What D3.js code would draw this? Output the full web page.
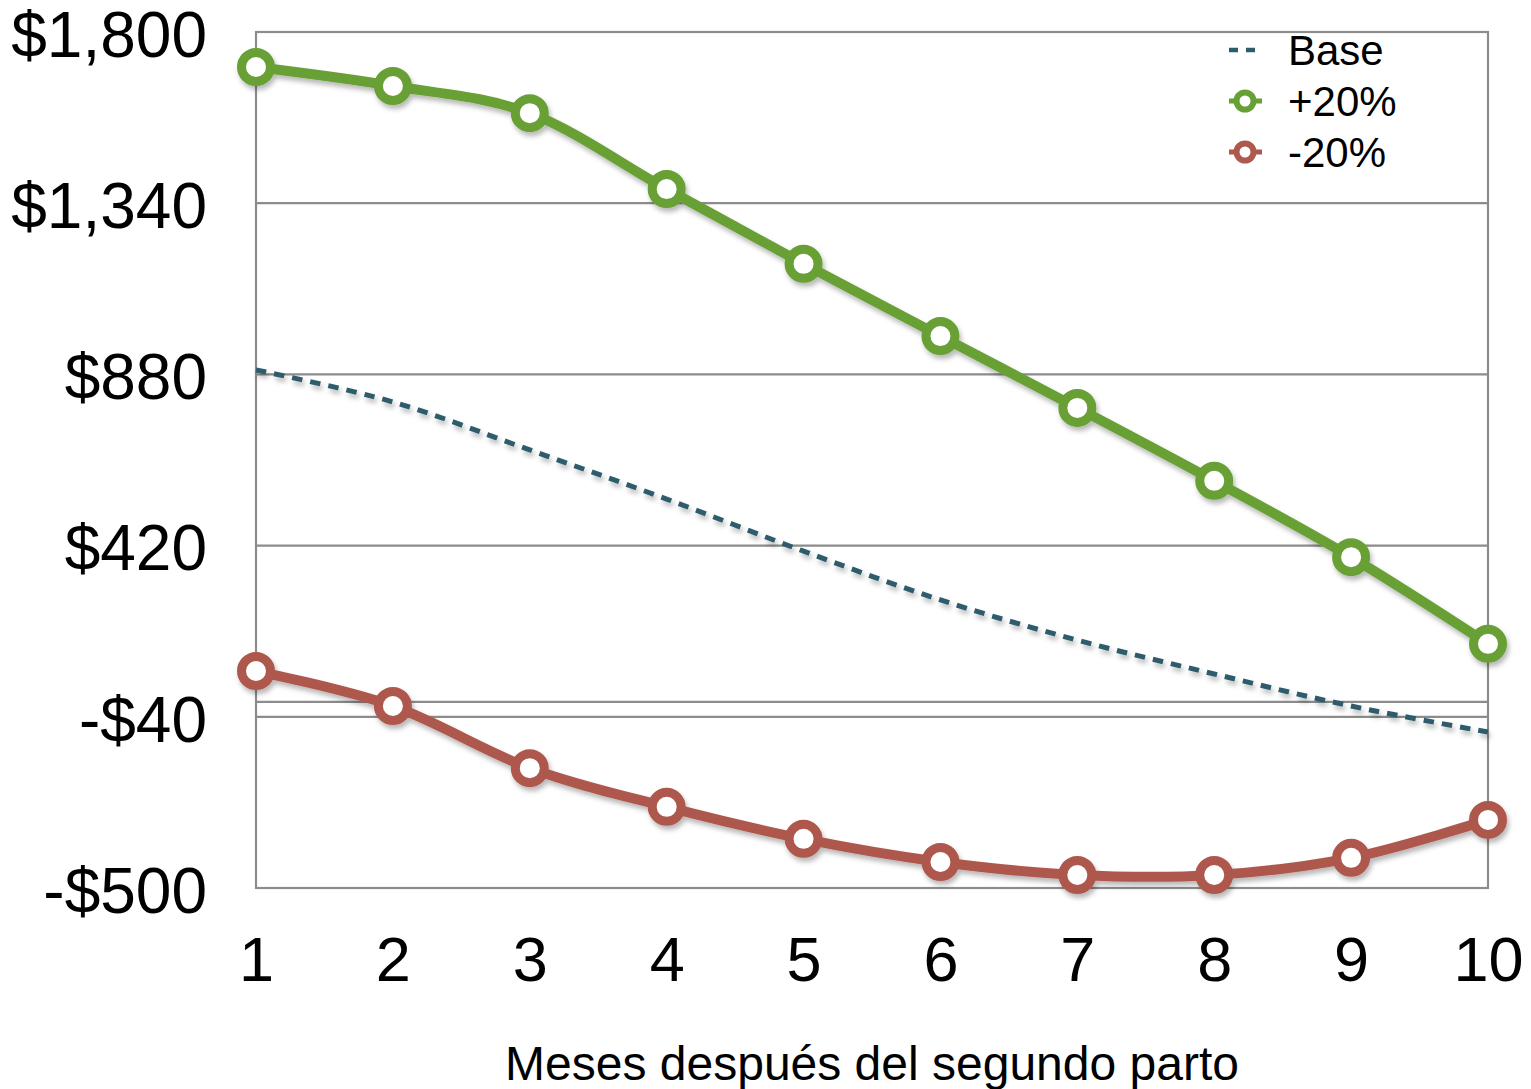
<!DOCTYPE html>
<html>
<head>
<meta charset="utf-8">
<script src="https://cdn.jsdelivr.net/npm/d3@7"></script>
<style>
  html, body { margin: 0; padding: 0; background: #ffffff; }
  svg { display: block; font-family: "Liberation Sans", Arial, Helvetica, sans-serif; }
</style>
</head>
<body>
<svg id="chart" width="1531" height="1089"></svg>
<script>
// Months after the second calving
const months = [1, 2, 3, 4, 5, 6, 7, 8, 9, 10];

// Series values (USD)
const baseValues  = [892, 806, 677, 545, 405, 274, 166, 75, -11, -81];
const plusValues  = [1706, 1655, 1582, 1378, 1177, 983, 790, 594, 389, 156];
const minusValues = [83, -11, -178, -282, -368, -430, -465, -465, -419, -317];

// Axis ticks
const yTicks = [-500, -40, 420, 880, 1340, 1800];
const yTickLabels = ["-$500", "-$40", "$420", "$880", "$1,340", "$1,800"];
const xTickLabels = ["1", "2", "3", "4", "5", "6", "7", "8", "9", "10"];

const seriesNames = ["Base", "+20%", "-20%"];
const xTitle = "Meses después del segundo parto";

const colors = { base: "#2d5c6c", plus: "#67a034", minus: "#ae594d" };

const svg = d3.select("#chart");
const plotLeft = 256, plotRight = 1488, plotTop = 32, plotBottom = 888;

const x = d3.scaleLinear().domain([1, 10]).range([plotLeft, plotRight]);
const y = d3.scaleLinear().domain([-500, 1800]).range([plotBottom, plotTop]);

// soft drop shadow under the series
const defs = svg.append("defs");
const f = defs.append("filter").attr("id", "shadow")
  .attr("x", "-10%").attr("y", "-10%").attr("width", "120%").attr("height", "130%");
f.append("feDropShadow").attr("dx", 2).attr("dy", 4).attr("stdDeviation", 2.5)
  .attr("flood-color", "#000").attr("flood-opacity", 0.28);

// gridlines (plus the zero line)
const gridColor = "#8c8c8c";
svg.append("g").selectAll("line").data(yTicks.concat([0])).join("line")
  .attr("x1", plotLeft).attr("x2", plotRight)
  .attr("y1", d => y(d)).attr("y2", d => y(d))
  .attr("stroke", gridColor).attr("stroke-width", 2.2);

// plot frame
svg.append("rect")
  .attr("x", plotLeft).attr("y", plotTop)
  .attr("width", plotRight - plotLeft).attr("height", plotBottom - plotTop)
  .attr("fill", "none").attr("stroke", gridColor).attr("stroke-width", 2.2);

// y axis
const yAxis = d3.axisLeft(y).tickValues(yTicks)
  .tickFormat((d, i) => yTickLabels[i]).tickSize(0).tickPadding(49);
const gy = svg.append("g").attr("transform", `translate(${plotLeft},0)`).call(yAxis);
gy.select(".domain").remove();
gy.selectAll("text").attr("font-size", 64).attr("fill", "#000")
  .attr("font-family", "'Liberation Sans', Arial, sans-serif")
  .attr("dy", "0.38em");

// x axis
const xAxis = d3.axisBottom(x).tickValues(months)
  .tickFormat((d, i) => xTickLabels[i]).tickSize(0).tickPadding(48);
const gx = svg.append("g").attr("transform", `translate(0,${plotBottom})`).call(xAxis);
gx.select(".domain").remove();
gx.selectAll("text").attr("font-size", 63).attr("fill", "#000")
  .attr("font-family", "'Liberation Sans', Arial, sans-serif");

// x axis title
svg.append("text")
  .attr("x", (plotLeft + plotRight) / 2).attr("y", 1080)
  .attr("text-anchor", "middle").attr("font-size", 48).attr("fill", "#000")
  .text(xTitle);

const line = d3.line().x((d, i) => x(months[i])).y(d => y(d))
  .curve(d3.curveCatmullRom.alpha(0));

// Base (dashed)
svg.append("path").datum(baseValues)
  .attr("d", line).attr("fill", "none")
  .attr("stroke", colors.base).attr("stroke-width", 5)
  .attr("stroke-dasharray", "10.5,8")
  .attr("filter", "url(#shadow)");

// +20% and -20% with ring markers
function drawSeries(values, color) {
  const g = svg.append("g").attr("filter", "url(#shadow)");
  g.append("path").datum(values)
    .attr("d", line).attr("fill", "none")
    .attr("stroke", color).attr("stroke-width", 10)
    .attr("stroke-linejoin", "round");
  g.selectAll("circle").data(values).join("circle")
    .attr("cx", (d, i) => x(months[i])).attr("cy", d => y(d))
    .attr("r", 14.5).attr("fill", "#fff")
    .attr("stroke", color).attr("stroke-width", 9);
}
drawSeries(plusValues, colors.plus);
drawSeries(minusValues, colors.minus);

// legend
const legend = svg.append("g");
const rows = [50, 101, 152];
legend.append("line").attr("x1", 1229).attr("x2", 1259)
  .attr("y1", rows[0]).attr("y2", rows[0])
  .attr("stroke", colors.base).attr("stroke-width", 4.5).attr("stroke-dasharray", "9,8");
[[colors.plus, rows[1]], [colors.minus, rows[2]]].forEach(([c, ry]) => {
  legend.append("line").attr("x1", 1229).attr("x2", 1262).attr("y1", ry).attr("y2", ry)
    .attr("stroke", c).attr("stroke-width", 5);
  legend.append("circle").attr("cx", 1245).attr("cy", ry).attr("r", 8.5)
    .attr("fill", "#fff").attr("stroke", c).attr("stroke-width", 6);
});
legend.selectAll("text").data(seriesNames).join("text")
  .attr("x", 1288).attr("y", (d, i) => rows[i] + 15)
  .attr("font-size", 42).attr("fill", "#000").text(d => d);
</script>
</body>
</html>
